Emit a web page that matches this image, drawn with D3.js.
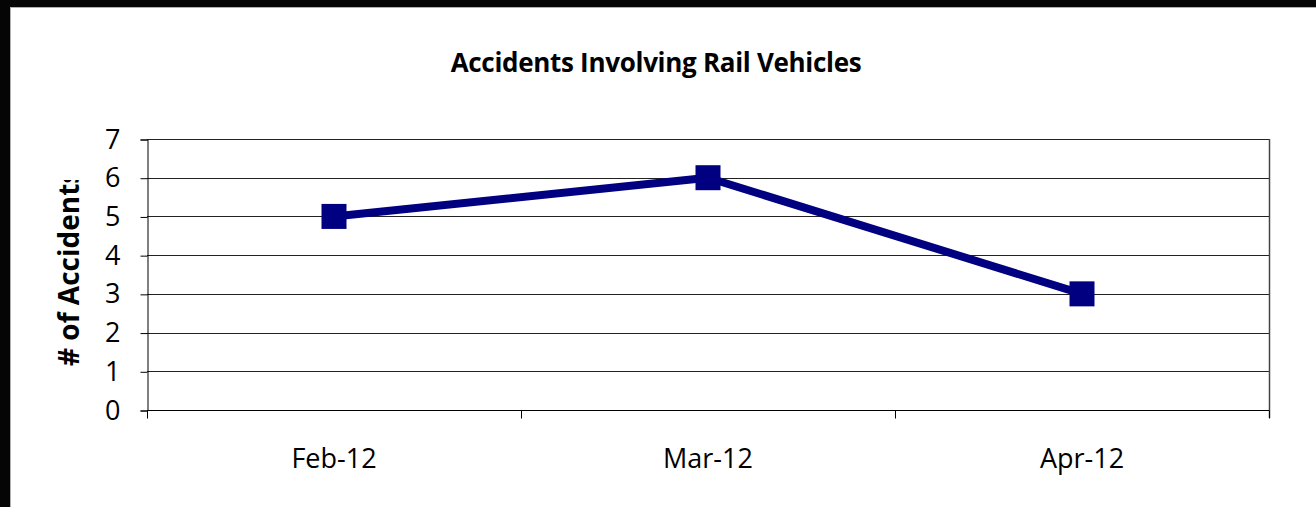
<!DOCTYPE html>
<html>
<head>
<meta charset="utf-8">
<script src="https://cdn.jsdelivr.net/npm/d3@7"></script>
<style>
  html, body { margin: 0; padding: 0; background: #fff; }
  svg { display: block; }
</style>
</head>
<body>
<div id="chart"></div>
<script>
// Chart data
var months = ['Feb-12', 'Mar-12', 'Apr-12'];
var accidents = [5, 6, 3];
var yTicks = [0, 1, 2, 3, 4, 5, 6, 7];

var width = 1316, height = 507;
var plot = {left: 147, right: 1269, top: 139, bottom: 410};
var font = '"Open Sans", Lato, sans-serif';

var svg = d3.select('#chart').append('svg')
            .attr('width', width)
            .attr('height', height);

// Frame: black strip at top and left, as in the source screenshot
svg.append('rect').attr('x', 0).attr('y', 0).attr('width', width).attr('height', height).attr('fill', '#fff');
svg.append('rect').attr('x', 0).attr('y', 0).attr('width', width).attr('height', 7).attr('fill', '#050505');
svg.append('rect').attr('x', 0).attr('y', 0).attr('width', 10).attr('height', height).attr('fill', '#050505');
svg.append('line').attr('x1', 10).attr('x2', width).attr('y1', 7.5).attr('y2', 7.5)
   .attr('stroke', '#b0b0b0').attr('stroke-width', 1);
svg.append('line').attr('x1', 10.5).attr('x2', 10.5).attr('y1', 7).attr('y2', height)
   .attr('stroke', '#b0b0b0').attr('stroke-width', 1);

// Scales
var x = d3.scaleBand().domain(months).range([plot.left, plot.right]);
var y = d3.scaleLinear().domain([0, 7]).range([plot.bottom, plot.top]);

// Title
svg.append('text')
   .attr('x', 656).attr('y', 72)
   .attr('text-anchor', 'middle')
   .style('font-family', font)
   .style('font-weight', 'bold')
   .style('font-size', '26px')
   .style('letter-spacing', '-0.3px')
   .attr('fill', '#000')
   .text('Accidents Involving Rail Vehicles');

// Horizontal gridlines
svg.append('g').selectAll('line')
   .data(yTicks)
   .join('line')
   .attr('x1', plot.left).attr('x2', plot.right)
   .attr('y1', function(d) { return Math.round(y(d)) + 0.5; })
   .attr('y2', function(d) { return Math.round(y(d)) + 0.5; })
   .attr('stroke', '#222').attr('stroke-width', 1);

// Right border of plot area
svg.append('line')
   .attr('x1', plot.right + 0.5).attr('x2', plot.right + 0.5)
   .attr('y1', plot.top).attr('y2', plot.bottom + 8)
   .attr('stroke', '#444').attr('stroke-width', 1.5);

// Y axis
var yAxis = d3.axisLeft(y).tickValues(yTicks).tickSize(7).tickPadding(20).tickFormat(d3.format('d'));
var yg = svg.append('g')
            .attr('transform', 'translate(' + (plot.left + 0.5) + ',0.5)')
            .call(yAxis);
yg.select('.domain').attr('stroke', '#000');
yg.selectAll('.tick line').attr('stroke', '#000');
yg.selectAll('.tick text')
  .style('font-family', font)
  .style('font-size', '27px')
  .attr('fill', '#000');

// X axis with ticks on category boundaries
var xg = svg.append('g')
            .attr('transform', 'translate(0,' + (plot.bottom + 0.5) + ')');
xg.append('line').attr('x1', plot.left).attr('x2', plot.right).attr('stroke', '#000');
var boundaries = months.map(function(m) { return x(m); }).concat([x(months[months.length - 1]) + x.bandwidth()]);
xg.selectAll('.xt')
  .data(boundaries)
  .join('line')
  .attr('class', 'xt')
  .attr('x1', function(d) { return Math.round(d) + 0.5; })
  .attr('x2', function(d) { return Math.round(d) + 0.5; })
  .attr('y1', 0).attr('y2', 8)
  .attr('stroke', '#000');
xg.selectAll('.xl')
  .data(months)
  .join('text')
  .attr('class', 'xl')
  .attr('x', function(d) { return x(d) + x.bandwidth() / 2; })
  .attr('y', 57)
  .attr('text-anchor', 'middle')
  .style('font-family', font)
  .style('font-size', '27px')
  .attr('fill', '#000')
  .text(function(d) { return d; });

// Y axis title, clipped like the original
svg.append('clipPath').attr('id', 'ytitle-clip')
   .append('rect').attr('x', 30).attr('y', 180).attr('width', 60).attr('height', 230);
svg.append('g')
   .attr('clip-path', 'url(#ytitle-clip)')
   .append('text')
   .attr('transform', 'translate(79,366) rotate(-90)')
   .attr('text-anchor', 'start')
   .style('font-family', font)
   .style('font-weight', 'bold')
   .style('font-size', '28px')
   .attr('fill', '#000')
   .text('# of Accidents');

// Series line and markers
var line = d3.line()
             .x(function(d, i) { return x(months[i]) + x.bandwidth() / 2; })
             .y(function(d) { return y(d); });

svg.append('path')
   .datum(accidents)
   .attr('d', line)
   .attr('fill', 'none')
   .attr('stroke', '#000080')
   .attr('stroke-width', 8)
   .attr('stroke-linejoin', 'round');

var mk = 25;
svg.selectAll('.marker')
   .data(accidents)
   .join('rect')
   .attr('class', 'marker')
   .attr('x', function(d, i) { return x(months[i]) + x.bandwidth() / 2 - mk / 2; })
   .attr('y', function(d) { return y(d) - mk / 2; })
   .attr('width', mk).attr('height', mk)
   .attr('fill', '#000080');
</script>
</body>
</html>
